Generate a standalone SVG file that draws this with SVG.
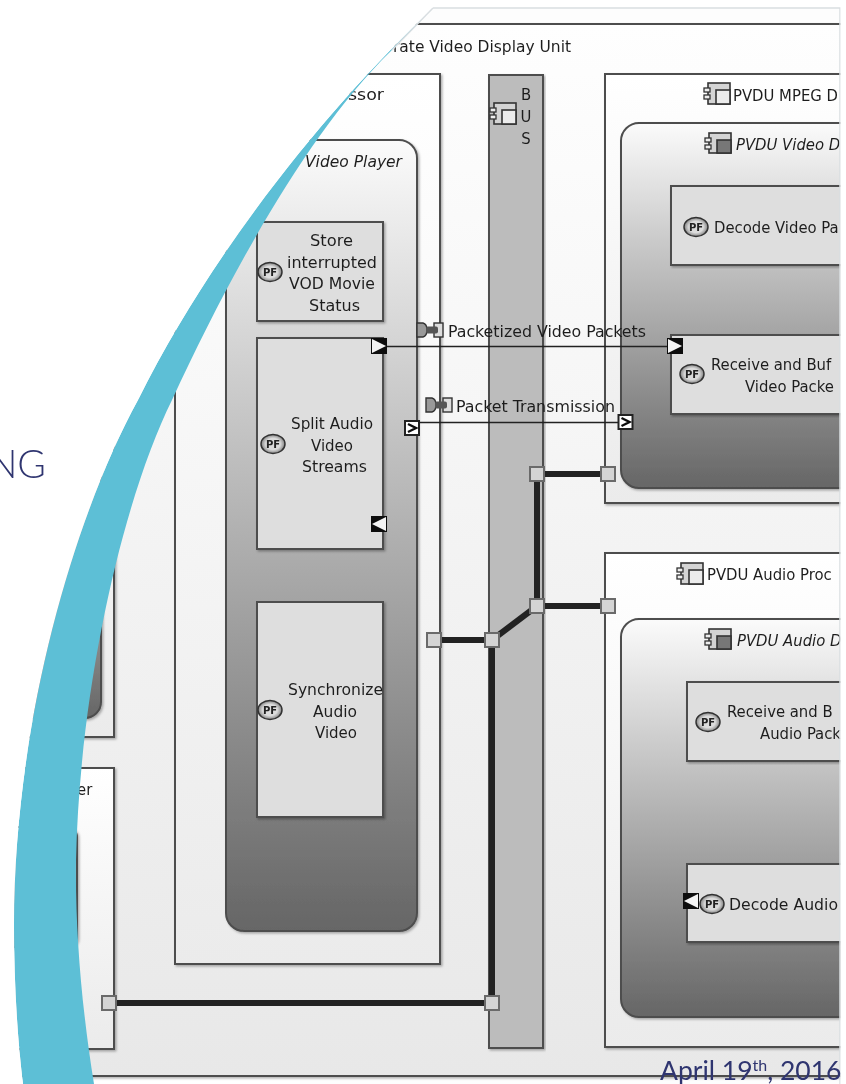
<svg xmlns="http://www.w3.org/2000/svg" xmlns:xlink="http://www.w3.org/1999/xlink" width="846" height="1084" viewBox="0 0 846 1084">
<style>
text{font-family:"DejaVu Sans Condensed","DejaVu Sans",sans-serif;font-stretch:condensed;font-size:16.5px;fill:#1f1f1f}
.i{font-style:italic}
.m{text-anchor:middle}
.box{stroke:#4d4d4d;stroke-width:2;filter:url(#sh)}
.outer{fill:url(#gOuter)}
.soft{fill:url(#gSoft)}
.deep{fill:url(#gDeep)}
.fn{fill:#dedede}
.pf{fill:url(#gPF);stroke:#333;stroke-width:1.5}
.pft{font-family:"DejaVu Sans",sans-serif;font-size:10px;font-weight:bold;text-anchor:middle;fill:#222;font-stretch:normal}
.thick{fill:none;stroke:#242424;stroke-width:6}
.thin{fill:none;stroke:#222;stroke-width:1.4}
.pad{fill:#d4d4d4;stroke:#6a6a6a;stroke-width:2}
.wp{fill:#fff;stroke:#222;stroke-width:2}
.brand{font-family:Lato,"Open Sans",sans-serif;font-stretch:normal;fill:#2f3570}
</style>
<defs>
<linearGradient id="gOuter" x1="0" y1="0" x2="0" y2="1"><stop offset="0" stop-color="#fefefe"/><stop offset="1" stop-color="#e8e8e8"/></linearGradient>
<linearGradient id="gSoft" x1="0" y1="0" x2="0" y2="1"><stop offset="0" stop-color="#ffffff"/><stop offset="1" stop-color="#ebebeb"/></linearGradient>
<linearGradient id="gDeep" x1="0" y1="0" x2="0" y2="1"><stop offset="0" stop-color="#fbfbfb"/><stop offset="0.35" stop-color="#c6c6c6"/><stop offset="1" stop-color="#666666"/></linearGradient>
<radialGradient id="gPF" cx="0.5" cy="0.5" r="0.6"><stop offset="0.5" stop-color="#dcdcdc"/><stop offset="1" stop-color="#555"/></radialGradient>
<filter id="sh" x="-5%" y="-5%" width="110%" height="110%"><feDropShadow dx="1.5" dy="1.5" stdDeviation="1" flood-color="#000" flood-opacity="0.3"/></filter>
<filter id="soften" x="0" y="0" width="100%" height="100%"><feGaussianBlur stdDeviation="0.5"/></filter>
<g id="comp"><rect x="4" y="0" width="22" height="21" fill="#d4d4d4" stroke="#333" stroke-width="1.6"/><rect x="12" y="7" width="14" height="14" fill="#ececec" stroke="#333" stroke-width="1.6"/><rect x="0" y="5" width="6" height="4" fill="#eee" stroke="#333" stroke-width="1.3"/><rect x="0" y="12" width="6" height="4" fill="#eee" stroke="#333" stroke-width="1.3"/></g>
<g id="compd"><rect x="4" y="0" width="22" height="20" fill="#d4d4d4" stroke="#333" stroke-width="1.6"/><rect x="12" y="7" width="14" height="13" fill="#777" stroke="#333" stroke-width="1.6"/><rect x="0" y="5" width="6" height="4" fill="#eee" stroke="#333" stroke-width="1.3"/><rect x="0" y="12" width="6" height="4" fill="#eee" stroke="#333" stroke-width="1.3"/></g>
<g id="link"><path d="M0,0H6Q10,1 10,7Q10,13 6,14H0Z" fill="#999" stroke="#333" stroke-width="1.4"/><rect x="17" y="0" width="9" height="14" fill="#ddd" stroke="#333" stroke-width="1.4"/><rect x="9" y="3.500" width="12" height="7" rx="2" fill="#555"/></g>
<g id="pR"><rect x="-8" y="-8" width="16" height="16" fill="#111"/><path d="M-7,-7L7,0L-7,7Z" fill="#f4f4f4"/></g>
<g id="pL"><rect x="-8" y="-8" width="16" height="16" fill="#111"/><path d="M7,-7L-7,0L7,7Z" fill="#f4f4f4"/></g>
<g id="pC"><rect x="-7" y="-7" width="14" height="14" class="wp"/><path d="M-4,-4L4,0L-4,4" fill="none" stroke="#111" stroke-width="2.4"/></g>
</defs>
<rect width="846" height="1084" fill="#ffffff"/>
<g id="diagram" filter="url(#soften)">
<rect x="300" y="8" width="546" height="1076" fill="#fdfdfd"/>
<g id="private-video-display-unit">
<rect x="-10" y="24" width="870" height="1052" class="box outer"/>
<text x="393" y="52" textLength="178" lengthAdjust="spacingAndGlyphs">rate Video Display Unit</text>
</g>
<g id="left-box-upper">
<rect x="-10" y="300" width="124" height="437" class="box soft"/>
<rect x="-10" y="400" width="111" height="318" rx="16" class="box deep"/>
</g>
<g id="left-box-lower">
<rect x="-10" y="768" width="124" height="281" class="box soft"/>
<rect x="-10" y="827" width="87" height="120" rx="10" class="box deep"/>
<text x="77" y="795">er</text>
</g>
<g id="processor">
<rect x="175" y="74" width="265" height="890" class="box soft"/>
<text x="348" y="100" textLength="36" lengthAdjust="spacingAndGlyphs">ssor</text>
</g>
<g id="video-player">
<rect x="226" y="140" width="191" height="791" rx="18" class="box deep"/>
<text x="305" y="167" textLength="97" lengthAdjust="spacingAndGlyphs" class="i">Video Player</text>
</g>
<g id="store-status">
<rect x="257" y="222" width="126" height="99" class="box fn"/>
<ellipse cx="270" cy="272" rx="12" ry="9.500" class="pf"/><text x="270" y="275.500" class="pft">PF</text>
<text x="310" y="246" textLength="43" lengthAdjust="spacingAndGlyphs">Store</text>
<text x="287" y="268" textLength="90" lengthAdjust="spacingAndGlyphs">interrupted</text>
<text x="289" y="289" textLength="86" lengthAdjust="spacingAndGlyphs">VOD Movie</text>
<text x="309" y="311" textLength="51" lengthAdjust="spacingAndGlyphs">Status</text>
</g>
<g id="split-streams">
<rect x="257" y="338" width="126" height="211" class="box fn"/>
<ellipse cx="273" cy="444" rx="12" ry="9.500" class="pf"/><text x="273" y="447.500" class="pft">PF</text>
<text x="291" y="429" textLength="82" lengthAdjust="spacingAndGlyphs">Split Audio</text>
<text x="311" y="451" textLength="42" lengthAdjust="spacingAndGlyphs">Video</text>
<text x="302" y="472" textLength="65" lengthAdjust="spacingAndGlyphs">Streams</text>
</g>
<g id="synchronize">
<rect x="257" y="602" width="126" height="215" class="box fn"/>
<ellipse cx="270" cy="710" rx="12" ry="9.500" class="pf"/><text x="270" y="713.500" class="pft">PF</text>
<text x="288" y="695" textLength="95" lengthAdjust="spacingAndGlyphs">Synchronize</text>
<text x="313" y="717" textLength="44" lengthAdjust="spacingAndGlyphs">Audio</text>
<text x="315" y="738" textLength="42" lengthAdjust="spacingAndGlyphs">Video</text>
</g>
<g id="bus">
<rect x="489" y="75" width="54" height="973" fill="#bcbcbc" class="box"/>
<use xlink:href="#comp" href="#comp" x="490" y="103"/>
<text x="526" y="100" class="m">B</text>
<text x="526" y="122" class="m">U</text>
<text x="526" y="144" class="m">S</text>
</g>
<g id="mpeg">
<rect x="605" y="74" width="255" height="429" class="box soft"/>
<use xlink:href="#comp" href="#comp" x="704" y="83"/>
<text x="733" y="101">PVDU MPEG D</text>
</g>
<g id="video-decoder">
<rect x="621" y="123" width="240" height="365" rx="18" class="box deep"/>
<use xlink:href="#compd" href="#compd" x="705" y="133"/>
<text x="736" y="150" class="i">PVDU Video D</text>
</g>
<g id="decode-video">
<rect x="671" y="186" width="190" height="79" class="box fn"/>
<ellipse cx="696" cy="227" rx="12" ry="9.500" class="pf"/><text x="696" y="230.500" class="pft">PF</text>
<text x="714" y="233">Decode Video Pa</text>
</g>
<g id="receive-video">
<rect x="671" y="335" width="190" height="79" class="box fn"/>
<ellipse cx="692" cy="374" rx="12" ry="9.500" class="pf"/><text x="692" y="377.500" class="pft">PF</text>
<text x="711" y="370">Receive and Buf</text>
<text x="745" y="392">Video Packe</text>
</g>
<g id="audio-processor">
<rect x="605" y="553" width="255" height="494" class="box soft"/>
<use xlink:href="#comp" href="#comp" x="677" y="563"/>
<text x="707" y="580">PVDU Audio Proc</text>
</g>
<g id="audio-decoder">
<rect x="621" y="619" width="240" height="398" rx="18" class="box deep"/>
<use xlink:href="#compd" href="#compd" x="705" y="629"/>
<text x="737" y="646" class="i">PVDU Audio D</text>
</g>
<g id="receive-audio">
<rect x="687" y="682" width="175" height="79" class="box fn"/>
<ellipse cx="708" cy="722" rx="12" ry="9.500" class="pf"/><text x="708" y="725.500" class="pft">PF</text>
<text x="727" y="717">Receive and B</text>
<text x="760" y="739">Audio Pack</text>
</g>
<g id="decode-audio">
<rect x="687" y="864" width="175" height="78" class="box fn"/>
<ellipse cx="712" cy="904" rx="12" ry="9.500" class="pf"/><text x="712" y="907.500" class="pft">PF</text>
<text x="729" y="910" textLength="109" lengthAdjust="spacingAndGlyphs">Decode Audio</text>
</g>
<g id="connectors">
<path class="thick" d="M537,474H608M537,474V606M537,606H608M537,606L492,640M434,640H492M492,640V1003M109,1003H492"/>
<rect class="pad" x="530" y="467" width="14" height="14"/>
<rect class="pad" x="601" y="467" width="14" height="14"/>
<rect class="pad" x="530" y="599" width="14" height="14"/>
<rect class="pad" x="601" y="599" width="14" height="14"/>
<rect class="pad" x="427" y="633" width="14" height="14"/>
<rect class="pad" x="485" y="633" width="14" height="14"/>
<rect class="pad" x="485" y="996" width="14" height="14"/>
<rect class="pad" x="102" y="996" width="14" height="14"/>
<path class="thin" d="M379,346.500H675M412,422.500H625"/>
<use xlink:href="#pR" href="#pR" x="379" y="346"/>
<use xlink:href="#pR" href="#pR" x="675" y="346"/>
<use xlink:href="#pL" href="#pL" x="379" y="524"/>
<use xlink:href="#pL" href="#pL" x="691" y="901"/>
<use xlink:href="#pC" href="#pC" x="412" y="428"/>
<use xlink:href="#pC" href="#pC" x="625.500" y="422"/>
<use xlink:href="#link" href="#link" x="417" y="323"/>
<text x="448" y="337" textLength="198" lengthAdjust="spacingAndGlyphs">Packetized Video Packets</text>
<use xlink:href="#link" href="#link" x="426" y="398"/>
<text x="456" y="412" textLength="159" lengthAdjust="spacingAndGlyphs">Packet Transmission</text>
</g>
</g>
<g id="slide-frame">
<path d="M390,52 C310,130 232,270 172,400 C125,495 80,680 76,860 C75,930 82,1010 94,1084 L23,1084 C17,1035 14,980 14,925 C14,720 75,515 138,400 C215,245 335,100 433,8Z" fill="#5dbfd6"/>
<path d="M0,0H846V8H433C335,100 215,245 138,400C75,515 14,720 14,925C14,980 17,1035 23,1084H0Z" fill="#ffffff"/>
<path d="M433,8H840V1084" fill="none" stroke="#d9dee1" stroke-width="1.500"/>
<path d="M433,8L392,50" fill="none" stroke="#d9dee1" stroke-width="1.500"/>
<rect x="840.500" y="0" width="5.500" height="1084" fill="#ffffff"/>
<text x="46" y="478" text-anchor="end" class="brand" style="font-size:39px;font-weight:300">NG</text>
<text x="660" y="1080" class="brand" style="font-size:26.500px;font-weight:400">April 19<tspan dy="-9" style="font-size:16px">th</tspan><tspan dy="9">, 2016</tspan></text>
</g>
</svg>
